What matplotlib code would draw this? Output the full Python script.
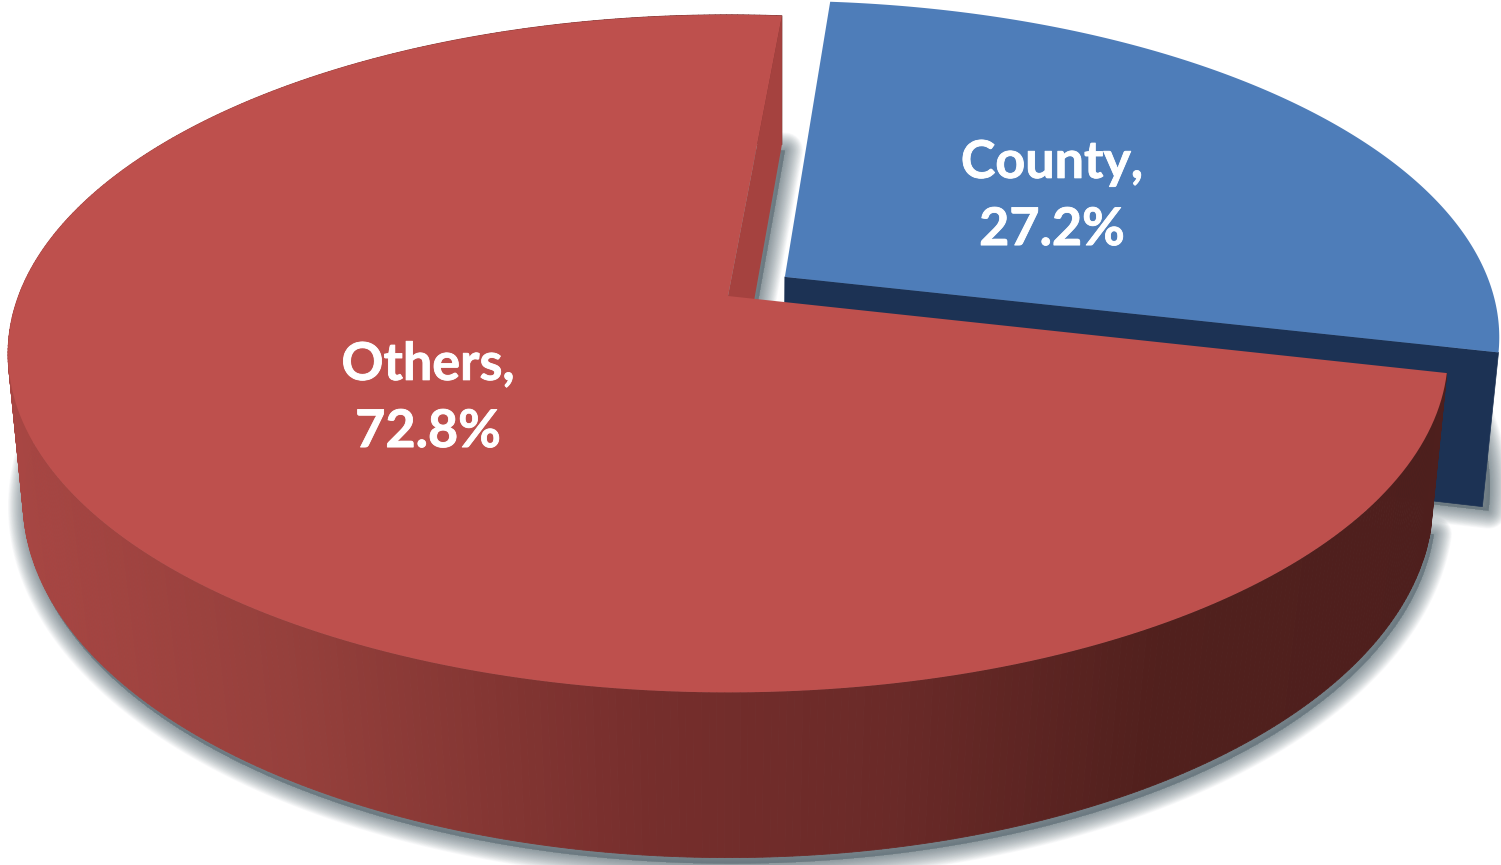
import numpy as np
import matplotlib
matplotlib.use("Agg")
import matplotlib.pyplot as plt
import matplotlib.patheffects as pe
from matplotlib.collections import PolyCollection
from matplotlib.colors import LinearSegmentedColormap
from matplotlib.patches import Polygon

categories = ["County", "Others"]
values = [27.2, 72.8]
explode = [0.1, 0.0]
top_colors = ["#4E7DB9", "#BE504D"]
START_DEG = 5.1

# projective views of the pie disc: apex x, apex y, x scale, y scale, perspective
TOP = (728.0, 296.0, 709.5, 329.0, 0.17)
BOTTOM = (728.0, 447.0, 697.0, 349.0, 0.15)


def project(view, u, v):
    x0, y0, a, b, k = view
    w = 1 - k * v
    return x0 + a * u / w, y0 + b * v / w


def disc_xy(theta_deg, radius=1.0, shift=(0.0, 0.0)):
    t = np.radians(theta_deg)
    return radius * np.sin(t) + shift[0], -radius * np.cos(t) + shift[1]


def wedge(view, t1, t2, shift=(0.0, 0.0)):
    ts = np.linspace(t1, t2, 240)
    u, v = disc_xy(ts, 1.0, shift)
    u = np.r_[shift[0], u]
    v = np.r_[shift[1], v]
    return np.column_stack(project(view, u, v))


fig = plt.figure(figsize=(15.01, 8.65), dpi=100, facecolor="white")
ax = fig.add_axes([0, 0, 1, 1])
ax.set_xlim(0, 1501)
ax.set_ylim(865, 0)
ax.axis("off")

total = sum(values)
spans = [val / total * 360 for val in values]
t_blue = (START_DEG, START_DEG + spans[0])
t_red = (t_blue[1], t_blue[1] + spans[1])
mid = np.radians(sum(t_blue) / 2)
shift_blue = (explode[0] * np.sin(mid), -explode[0] * np.cos(mid))

# soft shadows under the bottom faces
red_base = wedge(BOTTOM, *t_red)
blue_base = wedge(BOTTOM, *t_blue, shift_blue)
shadow_widths = np.linspace(1, 0.05, 30) ** 1.2 * 26
for poly, offset in ((red_base, (3, 6)), (blue_base, (6, 4))):
    for lw in shadow_widths:
        ax.add_patch(Polygon(poly + np.array(offset), closed=True, facecolor="#6a7a82",
                             edgecolor="#6a7a82", lw=lw, alpha=0.04, joinstyle="round", zorder=1))

# blue slice: cut face and top
ux, uy = disc_xy(t_blue[1], 1.0, shift_blue)
cut = [project(TOP, *shift_blue), project(TOP, ux, uy), project(BOTTOM, ux, uy), project(BOTTOM, *shift_blue)]
ax.add_patch(Polygon(cut, closed=True, facecolor="#1C3254", edgecolor="#1C3254", lw=0.5, zorder=2))
ax.add_patch(Polygon(wedge(TOP, *t_blue, shift_blue), closed=True, facecolor=top_colors[0],
                     edgecolor="none", zorder=3))

# red slice: shaded outer wall
cmap = LinearSegmentedColormap.from_list(
    "wall",
    [(0.0, "#A84643"), (0.2, "#96403C"), (0.45, "#762E2C"), (0.62, "#6A2A28"),
     (0.8, "#51201D"), (1.0, "#4E1F1D")],
)
ts = np.linspace(t_red[0], t_red[1], 500)
u, v = disc_xy(ts)
tx, ty = project(TOP, u, v)
bx, by = project(BOTTOM, u, v)
quads = [[(tx[i], ty[i]), (tx[i + 1], ty[i + 1]), (bx[i + 1], by[i + 1]), (bx[i], by[i])]
         for i in range(len(ts) - 1)]
wall_colors = cmap(np.clip((bx[:-1] - 20) / 1410, 0, 1))
ax.add_collection(PolyCollection(quads, facecolors=wall_colors, edgecolors=wall_colors, lw=0.6, zorder=4))

# red slice: inner cut face, in front of the far part of the wall
ux, uy = disc_xy(t_red[1])
inner = [project(TOP, 0, 0), project(TOP, ux, uy), project(BOTTOM, ux, uy), project(BOTTOM, 0, 0)]
ax.add_patch(Polygon(inner, closed=True, facecolor="#A5423F", edgecolor="none", zorder=5))

# red slice: top
ax.add_patch(Polygon(wedge(TOP, *t_red), closed=True, facecolor=top_colors[1], edgecolor="none", zorder=6))

# labels
label_pos = [(1052, 197), (428, 399)]
for cat, val, (x, y) in zip(categories, values, label_pos):
    ax.text(x, y, f"{cat},\n{val}%", ha="center", va="center", color="white",
            fontsize=37.5, fontweight="bold", family="Lato", linespacing=1.53, zorder=7,
            path_effects=[pe.withStroke(linewidth=0.6, foreground="white")])

fig.savefig("out.png", dpi=100, facecolor="white")
